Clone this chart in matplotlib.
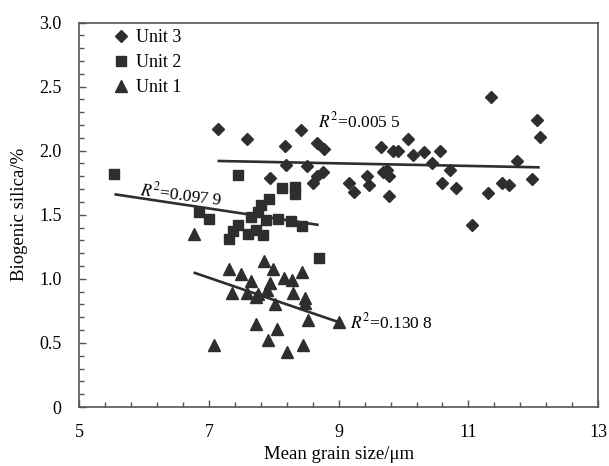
import numpy as np
import matplotlib
matplotlib.use("Agg")
import matplotlib.pyplot as plt
from matplotlib.ticker import FixedLocator

plt.rcParams['font.family'] = ['Liberation Serif', 'DejaVu Serif']
plt.rcParams['mathtext.fontset'] = 'stix'

# Unit 3 (diamonds)
unit3_x = [7.13, 7.58, 8.17, 8.42, 8.67, 8.78, 8.19, 8.51, 7.94, 8.61, 8.67, 8.76,
           9.16, 9.24, 9.44, 9.47, 9.65, 9.69, 9.75, 9.77, 9.77, 9.84, 9.92, 10.07,
           10.15, 10.32, 10.44, 10.56, 10.60, 10.71, 10.81, 11.06, 11.30, 11.35,
           11.52, 11.63, 11.75, 11.98, 12.06, 12.11]
unit3_y = [2.17, 2.09, 2.04, 2.16, 2.06, 2.01, 1.89, 1.88, 1.79, 1.75, 1.80, 1.83,
           1.75, 1.68, 1.80, 1.73, 2.03, 1.83, 1.85, 1.80, 1.65, 2.00, 2.00, 2.09,
           1.97, 1.99, 1.90, 2.00, 1.75, 1.85, 1.71, 1.42, 1.67, 2.42,
           1.75, 1.73, 1.92, 1.78, 2.24, 2.11]

# Unit 2 (squares)
unit2_x = [5.53, 6.85, 7.00, 7.30, 7.37, 7.45, 7.45, 7.60, 7.65, 7.72, 7.76, 7.80,
           7.83, 7.87, 7.92, 8.07, 8.12, 8.27, 8.33, 8.33, 8.43, 8.69]
unit2_y = [1.82, 1.52, 1.47, 1.31, 1.37, 1.42, 1.81, 1.35, 1.48, 1.38, 1.52, 1.58,
           1.34, 1.46, 1.62, 1.47, 1.71, 1.45, 1.72, 1.66, 1.41, 1.16]

# Unit 1 (triangles)
unit1_x = [6.76, 7.31, 7.49, 7.35, 7.64, 7.59, 7.72, 7.76, 7.85, 7.99, 7.94, 7.89,
           8.02, 8.15, 8.28, 8.30, 8.43, 8.48, 8.48, 8.52, 9.01, 7.72, 8.04, 7.91,
           7.08, 8.20, 8.45]
unit1_y = [1.35, 1.08, 1.04, 0.89, 0.98, 0.89, 0.86, 0.88, 1.14, 1.08, 0.97, 0.91,
           0.80, 1.01, 0.99, 0.89, 1.05, 0.85, 0.81, 0.68, 0.66, 0.65, 0.61, 0.52,
           0.48, 0.43, 0.48]

# trend lines: (x start, x end, slope, intercept)
fit3 = (7.13, 12.10, -0.010, 1.991)
fit2 = (5.54, 8.69, -0.076, 2.081)
fit1 = (6.76, 9.01, -0.173, 2.219)

r2_labels = ['=0.005 5', '=0.097 9', '=0.130 8']

x_major = [5, 7, 9, 11, 13]

COL = '#2e2e2e'
FS = 13

fig = plt.figure(figsize=(6.09, 4.66), dpi=100)
ax = fig.add_axes([0.1305, 0.1266, 0.8515, 0.8251])

ax.plot(unit3_x, unit3_y, 'D', color=COL, ms=6.5, ls='none', label='Unit 3')
ax.plot(unit2_x, unit2_y, 's', color=COL, ms=7.5, ls='none', label='Unit 2')
ax.plot(unit1_x, unit1_y, '^', color=COL, ms=8, ls='none', label='Unit 1')

# regression lines
for f in (fit3, fit2, fit1):
    xs = np.array([f[0], f[1]])
    ax.plot(xs, f[2] * xs + f[3], color=COL, lw=1.9, solid_capstyle='butt')

ax.text(8.68, 2.23, r'$R^2$' + r2_labels[0], fontsize=12.5, va='center', ha='left')
ax.text(5.93, 1.70, r'$R^2$' + r2_labels[1], fontsize=12.5, va='center', ha='left',
        rotation=-7, rotation_mode='anchor')
ax.text(9.18, 0.66, r'$R^2$' + r2_labels[2], fontsize=12.5, va='center', ha='left')

ax.set_xlim(5, 13)
ax.set_ylim(0, 3.0)
ax.xaxis.set_major_locator(FixedLocator(x_major))
ax.xaxis.set_minor_locator(FixedLocator(np.arange(5, 13.01, 0.4)))
ax.yaxis.set_major_locator(FixedLocator(np.arange(0, 3.01, 0.5)))
ax.yaxis.set_minor_locator(FixedLocator(np.arange(0, 3.01, 0.1)))
ax.yaxis.set_major_formatter(matplotlib.ticker.FuncFormatter(
    lambda v, p: '0' if v == 0 else '%.1f' % v))
ax.tick_params(which='both', direction='in', colors='#555555', labelcolor='black',
               labelsize=FS, width=1)
ax.tick_params(which='major', length=5)
ax.tick_params(which='minor', length=3.5)
ax.tick_params(axis='x', which='major', pad=12)
ax.tick_params(axis='y', which='major', pad=13)
for s in ax.spines.values():
    s.set_color('#555555')
    s.set_linewidth(1.2)

ax.set_xlabel('Mean grain size/\u03bcm', fontsize=13.5, labelpad=4)
ax.set_ylabel('Biogenic silica/%', fontsize=13.5, labelpad=8)

ax.legend(loc='upper left', frameon=False, fontsize=FS, handletextpad=0.25,
          labelspacing=0.45, borderaxespad=0.3, bbox_to_anchor=(0.035, 1.016),
          handlelength=1.2)

fig.savefig('out.png', dpi=100)
